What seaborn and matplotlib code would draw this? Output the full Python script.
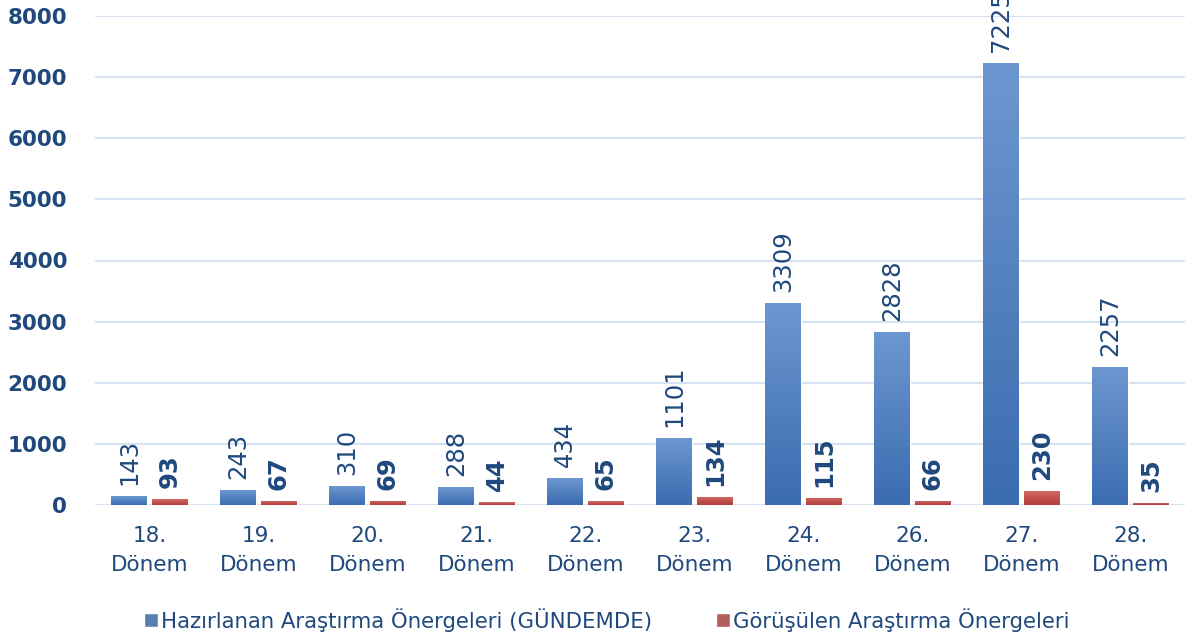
import numpy as np
import pandas as pd
import matplotlib
matplotlib.use("Agg")
import matplotlib.pyplot as plt
import seaborn as sns
from matplotlib.colors import LinearSegmentedColormap

categories = ["18.\nDönem", "19.\nDönem", "20.\nDönem", "21.\nDönem", "22.\nDönem",
              "23.\nDönem", "24.\nDönem", "26.\nDönem", "27.\nDönem", "28.\nDönem"]
hazirlanan = [143, 243, 310, 288, 434, 1101, 3309, 2828, 7225, 2257]
gorusulen = [93, 67, 69, 44, 65, 134, 115, 66, 230, 35]
series_names = ["Hazırlanan Araştırma Önergeleri (GÜNDEMDE)", "Görüşülen Araştırma Önergeleri"]
yticks = [0, 1000, 2000, 3000, 4000, 5000, 6000, 7000, 8000]

TEXT = "#1f497d"
BLUE = "#4a7ebb"
RED = "#c0504d"

sns.set_style("white")
plt.rcParams['font.family'] = ['DejaVu Sans']

df = pd.DataFrame({
    "cat": categories * 2,
    "val": hazirlanan + gorusulen,
    "series": [series_names[0]] * len(categories) + [series_names[1]] * len(categories),
})

fig = plt.figure(figsize=(11.92, 6.39), dpi=100)
ax = fig.add_axes([95 / 1192, 134 / 639, 1090 / 1192, 489 / 639])

sns.barplot(data=df, x="cat", y="val", hue="series", palette=[BLUE, RED],
            width=0.75, gap=0.13, ax=ax, legend=True, zorder=3)

ax.set_ylim(0, 8000)
ax.set_xlim(-0.5, len(categories) - 0.5)
ax.set_yticks(yticks)
ax.set_yticklabels([str(v) for v in yticks], fontsize=15.5, fontweight="bold", color=TEXT)
ax.tick_params(axis="y", length=0, pad=20)
ax.tick_params(axis="x", length=0, pad=15, labelsize=15.5, labelcolor=TEXT)
for lab in ax.get_xticklabels():
    lab.set_linespacing(1.6)
ax.set_xlabel("")
ax.set_ylabel("")
ax.grid(axis="y", color="#d6e2f2", linewidth=1.5, zorder=0)
for s in ax.spines.values():
    s.set_visible(False)

# gradients & labels
cmaps = {
    0: LinearSegmentedColormap.from_list("b", ["#3a6cb0", "#6d97d0"]),
    1: LinearSegmentedColormap.from_list("r", ["#b23d3a", "#d36a67"]),
}
grad = np.linspace(0, 1, 256).reshape(-1, 1)
for ci, cont in enumerate(ax.containers):
    vals = hazirlanan if ci == 0 else gorusulen
    for bar, v in zip(cont, vals):
        x0, y0 = bar.get_x(), bar.get_y()
        w, h = bar.get_width(), bar.get_height()
        im = ax.imshow(grad, extent=[x0, x0 + w, y0, y0 + h], origin="lower",
                       cmap=cmaps[ci], aspect="auto", zorder=4)
        im.set_clip_path(bar)
        ax.annotate(str(v), (x0 + w / 2, y0 + h), xytext=(0, 8), textcoords="offset points",
                    rotation=90, ha="center", va="bottom", fontsize=17.5, color=TEXT,
                    fontweight="normal" if ci == 0 else "bold", annotation_clip=False,
                    clip_on=False, zorder=5)
ax.set_xlim(-0.5, len(categories) - 0.5)
ax.set_ylim(0, 8000)

handles, labels = ax.get_legend_handles_labels()
ax.legend(handles, labels, loc="center", bbox_to_anchor=(607 / 1192, 1 - 620 / 639),
          bbox_transform=fig.transFigure, ncol=2,
          frameon=False, fontsize=15.3, labelcolor=TEXT, handlelength=0.65, handleheight=0.65,
          handletextpad=0.15, columnspacing=3.0)

fig.savefig("out.png", dpi=100)
